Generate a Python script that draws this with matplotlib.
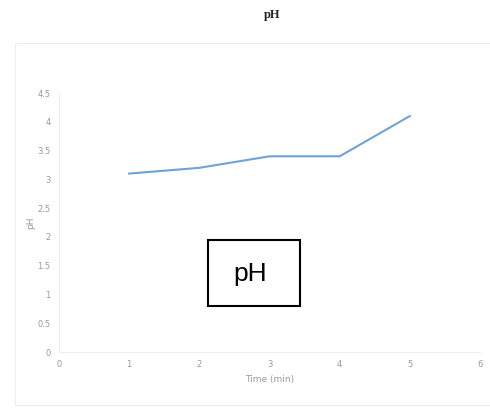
import matplotlib.pyplot as plt
from matplotlib.patches import Rectangle

time_min = [1, 2, 3, 4, 5]
ph_values = [3.1, 3.2, 3.4, 3.4, 4.1]
xticks = [0, 1, 2, 3, 4, 5, 6]
yticks = [0, 0.5, 1, 1.5, 2, 2.5, 3, 3.5, 4, 4.5]

W, H = 490, 411
fig = plt.figure(figsize=(W / 100, H / 100), dpi=100)

# outer chart frame (light grey)
fig.patches.append(Rectangle((15 / W, 6 / H), 480 / W, 362 / H, transform=fig.transFigure,
                             fill=False, edgecolor='#eeeeee', linewidth=0.8))

fig.text(272 / W, 1 - 15 / H, 'pH', ha='center', va='center', fontsize=9,
         fontweight='bold', family='Liberation Serif', color='#222222')

ax = fig.add_axes([59 / W, 59 / H, 421 / W, 259 / H])
ax.plot(time_min, ph_values, color='#6fa3d8', linewidth=1.5)
ax.set_xlim(0, 6)
ax.set_ylim(0, 4.5)
ax.set_xticks(xticks)
ax.set_yticks(yticks)
ax.set_xticklabels([str(v) for v in xticks])
ax.set_yticklabels(['%g' % v for v in yticks])
for s in ['top', 'right']:
    ax.spines[s].set_visible(False)
for s in ['left', 'bottom']:
    ax.spines[s].set_color('#eeeeee')
    ax.spines[s].set_linewidth(0.8)
ax.tick_params(length=0, labelsize=6, labelcolor='#999999', pad=6)
ax.set_xlabel('Time (min)', fontsize=6.5, color='#999999', labelpad=4)
ax.set_ylabel('pH', fontsize=6.5, color='#999999', labelpad=2)

# boxed label
fig.patches.append(Rectangle((208 / W, 1 - 306 / H), 92 / W, 66 / H, transform=fig.transFigure,
                             fill=False, edgecolor='black', linewidth=1.5))
fig.text(250 / W, 1 - 274 / H, 'pH', ha='center', va='center', fontsize=19,
         family='Liberation Sans', color='black')

fig.savefig('out.png', dpi=100)
